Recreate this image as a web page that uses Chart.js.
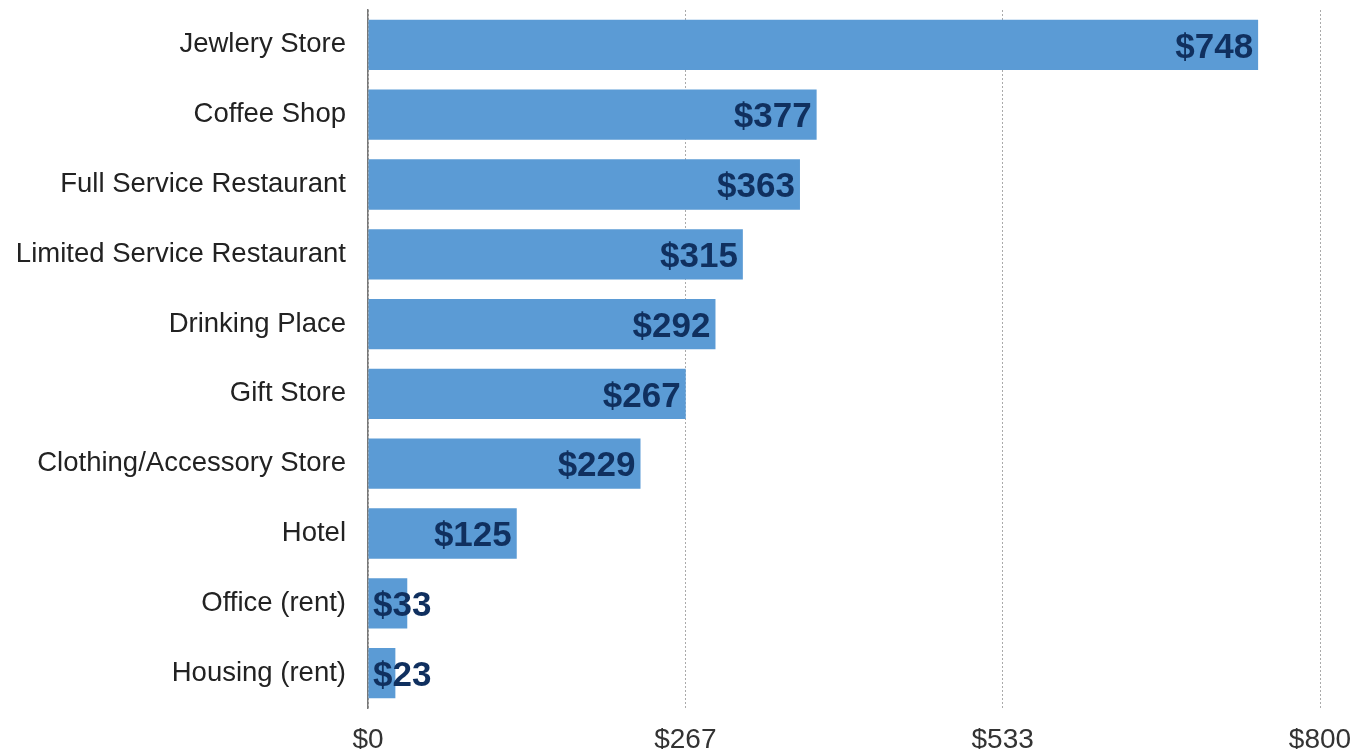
<!DOCTYPE html>
<html>
<head>
<meta charset="utf-8">
<script src="https://cdn.jsdelivr.net/npm/chart.js@4"></script>
<style>
  html, body { margin: 0; padding: 0; background: #fff; }
  #wrap { width: 1356px; height: 749px; }
</style>
</head>
<body>
<div id="wrap"><canvas id="chart"></canvas></div>
<script>
// categories and values
const categories = [
  "Jewlery Store",
  "Coffee Shop",
  "Full Service Restaurant",
  "Limited Service Restaurant",
  "Drinking Place",
  "Gift Store",
  "Clothing/Accessory Store",
  "Hotel",
  "Office (rent)",
  "Housing (rent)"
];
const values = [748, 377, 363, 315, 292, 267, 229, 125, 33, 23];
const axisMax = 800;
const tickValues = [0, 800 / 3, 1600 / 3, 800];

const BAR_COLOR = "#5b9bd5";
const LABEL_COLOR = "#10305f";
const FONT = "Liberation Sans, Helvetica, Arial, sans-serif";

// value labels drawn at the end of each bar, pushed right when bar is too short
const valueLabels = {
  id: "valueLabels",
  afterDatasetsDraw(chart) {
    const ctx = chart.ctx;
    const meta = chart.getDatasetMeta(0);
    const xScale = chart.scales.x;
    const base = xScale.getPixelForValue(0);
    ctx.save();
    ctx.font = "bold 35px " + FONT;
    ctx.fillStyle = LABEL_COLOR;
    ctx.textAlign = "right";
    ctx.textBaseline = "middle";
    meta.data.forEach((bar, i) => {
      const text = "$" + values[i];
      const w = ctx.measureText(text).width;
      const right = Math.max(bar.x - 5, base + 5 + w);
      ctx.fillText(text, right, bar.y + 3);
    });
    ctx.restore();
  }
};

new Chart(document.getElementById("chart"), {
  type: "bar",
  data: {
    labels: categories,
    datasets: [{
      data: values,
      backgroundColor: BAR_COLOR,
      borderWidth: 0,
      categoryPercentage: 1.0,
      barPercentage: 0.72
    }]
  },
  options: {
    indexAxis: "y",
    responsive: true,
    maintainAspectRatio: false,
    animation: false,
    layout: { padding: { top: 10, right: 36, left: 0, bottom: 0 } },
    plugins: {
      legend: { display: false },
      tooltip: { enabled: false }
    },
    scales: {
      x: {
        min: 0,
        max: axisMax,
        afterBuildTicks(scale) {
          scale.ticks = tickValues.map(v => ({ value: v }));
        },
        afterFit(scale) {
          scale.height = 41;
          scale.paddingLeft = 0;
          scale.paddingRight = 0;
        },
        grid: {
          color: "#aaaaaa",
          lineWidth: 1,
          drawTicks: false
        },
        border: { display: false, dash: [2, 2] },
        ticks: {
          padding: 15,
          color: "#333333",
          font: { family: FONT, size: 28 },
          callback: v => "$" + Math.round(v)
        }
      },
      y: {
        afterFit(scale) {
          scale.width = 368;
          scale.paddingTop = 0;
          scale.paddingBottom = 0;
        },
        grid: { display: false, drawTicks: false },
        border: { display: true, color: "#777777", width: 1.5 },
        ticks: {
          padding: 22,
          color: "#222222",
          font: { family: FONT, size: 27.5 }
        }
      }
    }
  },
  plugins: [valueLabels]
});
</script>
</body>
</html>
